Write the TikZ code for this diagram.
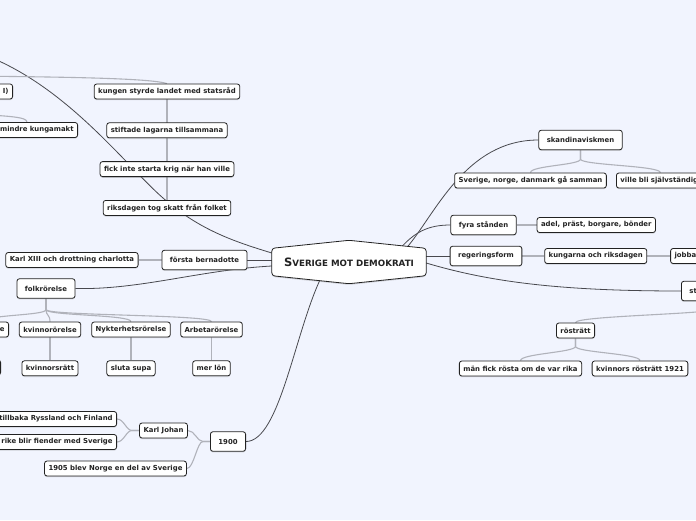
\documentclass[tikz,border=0pt]{standalone}
\usepackage{fontspec}
\setmainfont{DejaVu Sans}
\usetikzlibrary{shadows, positioning, calc, backgrounds}

\definecolor{mapbg}{RGB}{241,244,254}
\definecolor{mapink}{RGB}{34,34,34}
\definecolor{mapline}{RGB}{72,72,78}
\definecolor{maptwig}{RGB}{176,178,186}

\newcommand*{\hubtitle}[2]{{\fontsize{11.5}{12}\selectfont #1}{\fontsize{8.7}{10}\selectfont #2}}

\begin{document}
\begin{tikzpicture}[x=1pt, y=-1pt,
    every node/.style = {font=\fontsize{6.9}{8}\selectfont\bfseries, text=mapink},
    topic/.style  = {draw=mapink, fill=white, line width=0.8pt, rounded corners=2.5pt,
                     inner xsep=4pt, inner ysep=0pt, minimum height=15pt,
                     drop shadow={shadow xshift=0pt, shadow yshift=-1.2pt, opacity=0.3}},
    branch/.style = {topic, inner xsep=8pt, minimum height=19.5pt},
    cutoff/.style = {text width=#1, align=right},
    cutin/.style  = {text width=#1, align=left},
    hub/.style    = {draw=mapink, fill=white, line width=0.8pt, rounded corners=3pt,
                     drop shadow={shadow xshift=0pt, shadow yshift=-1.2pt, opacity=0.3}},
    link/.style   = {draw=mapline, line width=0.8pt},
    twig/.style   = {draw=maptwig, line width=1.1pt},
    node distance = 23pt]
  \useasboundingbox (0,0) rectangle (696,520);

  % central topic
  \node[minimum width=154pt, minimum height=27pt] (smd) at (349,262)
    {\hubtitle{S}{VERIGE MOT DEMOKRATI}};

  % upper left
  \node[topic, cutoff=40pt, anchor=east] (kx) at (13,91.5) {I)};
  \node[topic, cutoff=90pt, anchor=east] (mk) at (78,130) {mindre kungamakt};
  \node[topic] (ks) at (167,91.5) {kungen styrde landet med statsråd};
  \node[topic, below=of ks] (sl) {stiftade lagarna tillsammana};
  \node[topic, below=of sl] (fk) {fick inte starta krig när han ville};
  \node[topic, below=of fk] (rt) {riksdagen tog skatt från folket};

  % left
  \node[branch] (fb) at (204.5,260) {första bernadotte};
  \node[topic, left=23pt of fb] (k13) {Karl XIII och drottning charlotta};
  \node[branch] (folk) at (46,288.5) {folkrörelse};
  \node[topic, cutoff=40pt, anchor=east] (vr) at (9,329.5) {e};
  \node[topic] (kv) at (50,329.5) {kvinnorörelse};
  \node[topic] (ny) at (131,329.5) {Nykterhetsrörelse};
  \node[topic] (ar) at (211.5,329.5) {Arbetarörelse};
  \node[topic, minimum width=40pt, anchor=east] (vrc) at (1,367.5) {};
  \node[topic, below=of kv] (kr) {kvinnorsrätt};
  \node[topic, below=of ny] (ss) {sluta supa};
  \node[topic, below=of ar] (ml) {mer lön};

  % right
  \node[branch] (sk) at (580.5,140) {skandinaviskmen};
  \node[topic] (sn) at (530.5,180.5) {Sverige, norge, danmark gå samman};
  \node[topic, cutin=80pt, anchor=west] (vb) at (616,180.5) {ville bli självständig};
  \node[branch] (fs) at (483.5,225) {fyra stånden};
  \node[topic, right=20pt of fs] (ad) {adel, präst, borgare, bönder};
  \node[branch] (rf) at (486,256) {regeringsform};
  \node[topic, right=22pt of rf] (kor) {kungarna och riksdagen};
  \node[topic, right=23pt of kor, cutin=60pt] (jb) {jobba};
  \node[branch, cutin=60pt, anchor=west] (st) at (681,291) {st};
  \node[topic] (rr) at (575.5,330.5) {rösträtt};
  \node[topic] (mf) at (520.5,368.5) {män fick rösta om de var rika};
  \node[topic] (kvr) at (640,368.5) {kvinnors rösträtt 1921};

  % bottom
  \node[branch] (y19) at (228,441.5) {1900};
  \node[topic] (kj) at (163.5,430.5) {Karl Johan};
  \node[topic] (n05) at (115.5,468.5) {1905 blev Norge en del av Sverige};
  \node[topic, cutoff=130pt, anchor=east] (tr) at (117,419) {tillbaka Ryssland och Finland};
  \node[topic, cutoff=130pt, anchor=east] (fi) at (117,442) {rike blir fiender med Sverige};

  \begin{scope}[on background layer]
    \fill[mapbg] (0,0) rectangle (696,520);
    \coordinate (nw)  at (-30,50);
    \coordinate (nwb) at (-30,76);
    \coordinate (nwc) at (-30,114);

    % main branches
    \draw[link] ([yshift=9pt]smd.west) .. controls (236,242) and (200,230.6) .. (163,198)
                .. controls (123,163) and (60,77) .. (nw);
    \draw[link] (fb.east) -- (fb.east -| smd.west);
    \draw[link] ([yshift=-4pt]smd.west) .. controls (200,270) and (140,290) .. (folk.east);
    \draw[link] ([xshift=-26pt]smd.north east) .. controls (415,232) and (428,225) .. (fs.west);
    \draw[link] ([xshift=-20pt]smd.north east) .. controls (435,215) and (465,140) .. (sk.west);
    \draw[link] (smd.east |- rf.west) -- (rf.west);
    \draw[link] ([yshift=-1pt]smd.east) .. controls (490,282) and (560,291) .. (st.west);
    \draw[link] ([xshift=-27pt]smd.south) .. controls (295,330) and (280,441.5) .. (y19.east);

    % sub topics
    \draw[twig] (nwb) .. controls (60,77) and (150,78) .. (ks.north);
    \draw[twig] (ks) -- (rt);
    \draw[twig] (nwc) .. controls (10,116) and (27,117) .. ([xshift=-51pt]mk.north east);
    \draw[twig] (k13) -- (fb);
    \foreach \kid in {vr, kv, ny, ar}
      \draw[twig] (folk.south) -- ++(0,11) .. controls +(0,6) and +(0,-7) .. (\kid.north);
    \draw[twig] (vr) -- (vrc);
    \draw[twig] (kv) -- (kr);
    \draw[twig] (ny) -- (ss);
    \draw[twig] (ar) -- (ml);
    \foreach \kid in {sn, vb}
      \draw[twig] (sk.south) -- ++(0,9) .. controls +(0,6) and +(0,-7) .. (\kid.north);
    \draw[twig] (fs) -- (ad);
    \draw[twig] (rf) -- (kor);
    \draw[twig] (kor) -- (jb);
    \draw[twig] (st.south) -- ++(0,7) .. controls +(0,6) and +(0,-7) .. (rr.north);
    \foreach \kid in {mf, kvr}
      \draw[twig] (rr.south) -- ++(0,8) .. controls +(0,6) and +(0,-7) .. (\kid.north);
    \foreach \kid in {kj, n05}
      \draw[twig] (y19.west) -- ++(-7,0) .. controls +(-6,0) and +(7,0) .. (\kid.east);
    \foreach \kid in {tr, fi}
      \draw[twig] (kj.west) -- ++(-7,0) .. controls +(-6,0) and +(7,0) .. (\kid.east);

    % central shape
    \draw[hub] (smd.north west) -- ([yshift=8pt]smd.north) -- (smd.north east)
      -- (smd.south east) -- ([yshift=-8pt]smd.south) -- (smd.south west) -- cycle;
  \end{scope}
\end{tikzpicture}
\end{document}
